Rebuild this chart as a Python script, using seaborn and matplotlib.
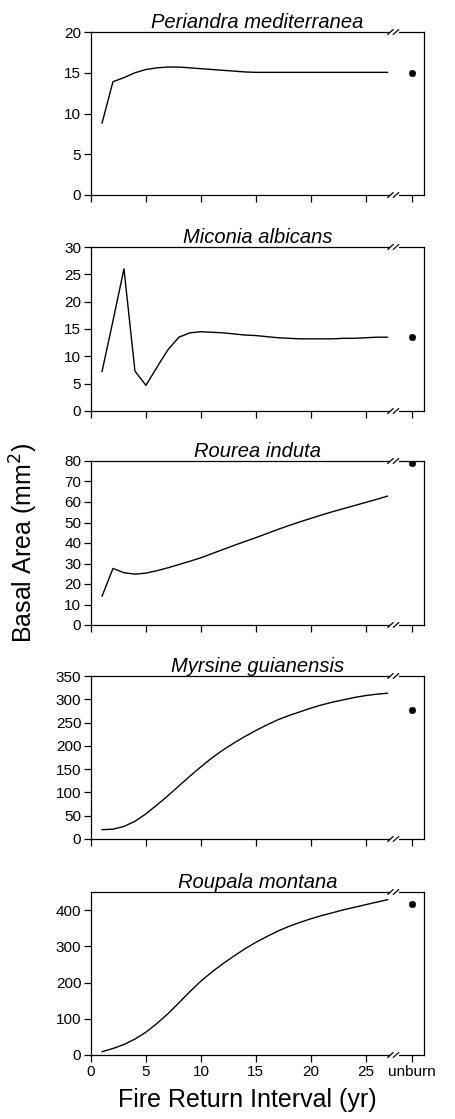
import numpy as np
import pandas as pd
import matplotlib
matplotlib.use("Agg")
import matplotlib.pyplot as plt
import matplotlib.transforms as mtransforms
import seaborn as sns

sns.set_style("ticks")
plt.rcParams['font.family'] = ['Liberation Sans', 'DejaVu Sans']
plt.rcParams['text.color'] = 'black'
plt.rcParams['axes.labelcolor'] = 'black'
plt.rcParams['xtick.color'] = 'black'
plt.rcParams['ytick.color'] = 'black'

# ---- data ----
years = list(range(1, 28))
UNBURN_X = 29.2

periandra = [8.8, 13.9, 14.4, 15.0, 15.4, 15.6, 15.7, 15.7, 15.6, 15.5, 15.4, 15.3, 15.2, 15.1,
             15.05, 15.05, 15.05, 15.05, 15.05, 15.05, 15.05, 15.05, 15.05, 15.05, 15.05, 15.05, 15.05]
periandra_unburn = 15.0

miconia = [7.2, 16.5, 26.0, 7.3, 4.7, 8.0, 11.2, 13.5, 14.3, 14.5, 14.4, 14.3, 14.1, 13.9,
           13.8, 13.6, 13.4, 13.3, 13.2, 13.2, 13.2, 13.2, 13.3, 13.3, 13.4, 13.5, 13.5]
miconia_unburn = 13.5

rourea = [14.0, 27.6, 25.5, 24.8, 25.3, 26.5, 27.9, 29.5, 31.1, 32.8, 34.8, 36.8, 38.8, 40.7,
          42.6, 44.6, 46.6, 48.5, 50.3, 52.0, 53.7, 55.3, 56.8, 58.3, 59.8, 61.3, 62.9]
rourea_unburn = 79.0

myrsine = [20, 21, 27, 38, 54, 73, 93, 114, 135, 155, 174, 191, 206, 220,
           233, 245, 256, 265, 273, 281, 288, 294, 299, 304, 308, 311, 313]
myrsine_unburn = 277

roupala = [9, 18, 29, 44, 63, 87, 114, 144, 175, 204, 229, 252, 273, 293,
           311, 327, 342, 355, 366, 376, 385, 393, 401, 408, 415, 422, 429]
roupala_unburn = 418

species = ["Periandra mediterranea", "Miconia albicans", "Rourea induta",
           "Myrsine guianensis", "Roupala montana"]
series = [periandra, miconia, rourea, myrsine, roupala]
unburn_vals = [periandra_unburn, miconia_unburn, rourea_unburn, myrsine_unburn, roupala_unburn]
ylims = [(0, 20), (0, 30), (0, 80), (0, 350), (0, 450)]
yticks = [np.arange(0, 21, 5), np.arange(0, 31, 5), np.arange(0, 81, 10),
          np.arange(0, 351, 50), np.arange(0, 401, 100)]
xtick_vals = [0, 5, 10, 15, 20, 25, UNBURN_X]
xtick_labels = ["0", "5", "10", "15", "20", "25", "unburn"]

W, H = 455, 1119
fig = plt.figure(figsize=(W / 100, H / 100), dpi=100)

tops = [32, 247, 461, 676, 892]
bots = [195, 411, 625, 839, 1055]
left_px, right_px = 91, 424

for i in range(5):
    ax = fig.add_axes([left_px / W, 1 - bots[i] / H, (right_px - left_px) / W, (bots[i] - tops[i]) / H])
    df = pd.DataFrame({"x": years, "y": series[i]})
    sns.lineplot(data=df, x="x", y="y", ax=ax, color="black", linewidth=1.0)
    du = pd.DataFrame({"x": [UNBURN_X], "y": [unburn_vals[i]]})
    sns.scatterplot(data=du, x="x", y="y", ax=ax, color="black", s=22, edgecolor="black", zorder=5)
    ax.set_xlim(0, 30.3)
    ax.set_ylim(*ylims[i])
    ax.set_yticks(yticks[i])
    ax.set_xticks(xtick_vals)
    if i == 4:
        ax.set_xticklabels(xtick_labels)
    else:
        ax.set_xticklabels([])
    ax.set_xlabel("")
    ax.set_ylabel("")
    ax.tick_params(axis="both", direction="out", length=5, width=0.9, labelsize=11,
                   colors="black", labelcolor="black", pad=2)
    for sp in ax.spines.values():
        sp.set_visible(True)
        sp.set_linewidth(0.9)
        sp.set_color("black")
    ax.set_title(species[i], fontsize=14.5, style="italic", pad=1, color="black")
    # axis break marks at top and bottom spines
    trans = mtransforms.blended_transform_factory(ax.transData, ax.transAxes)
    for yb in (0.0, 1.0):
        ax.add_patch(plt.Rectangle((27.25, yb - 0.02), 0.75, 0.04, transform=trans,
                                   facecolor="white", edgecolor="none", clip_on=False, zorder=6))
        for dx in (27.25, 27.75):
            ax.plot([dx - 0.25, dx + 0.25], [yb - 0.015, yb + 0.015], transform=trans,
                    color="black", linewidth=0.9, clip_on=False, zorder=7)

fig.text(24 / W, 1 - 543 / H, "Basal Area (mm$^2$)", rotation=90,
         ha="center", va="center", fontsize=18, color="black")
fig.text(247 / W, 1 - 1100 / H, "Fire Return Interval (yr)",
         ha="center", va="center", fontsize=18, color="black")

fig.savefig("out.png", dpi=100)
